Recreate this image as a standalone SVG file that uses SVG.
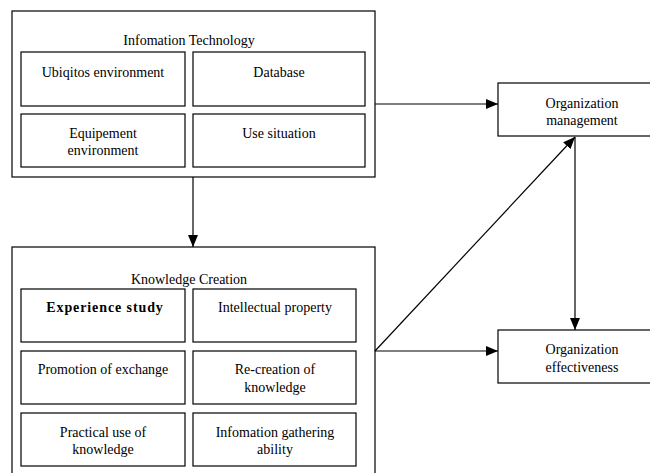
<svg xmlns="http://www.w3.org/2000/svg" width="650" height="473" viewBox="0 0 650 473" font-family="'Liberation Serif', 'Times New Roman', 'DejaVu Serif', serif" font-size="14">
<defs>
<marker id="arr" viewBox="0 0 12 10" refX="12" refY="5" markerWidth="12" markerHeight="10" markerUnits="userSpaceOnUse" orient="auto">
<path d="M0,0 L12,5 L0,10 Z" fill="#000"/>
</marker>
<style>
rect{fill:#fff;stroke:#000;stroke-width:1.2}
text{font-family:'Liberation Serif','Times New Roman','DejaVu Serif',serif;font-size:14px;fill:#000;text-anchor:middle}
.bold{font-weight:bold;letter-spacing:0.9px}
.edge{fill:none;stroke:#000;stroke-width:1.2;marker-end:url(#arr)}
</style>
</defs>
<g id="it">
<rect x="12" y="11" width="363" height="166"/>
<text x="189" y="45">Infomation Technology</text>
</g>
<g id="it-ubiq"><rect x="21" y="52" width="164" height="54"/><text x="103" y="77">Ubiqitos environment</text></g>
<g id="it-db"><rect x="193" y="52" width="172" height="54"/><text x="279" y="77">Database</text></g>
<g id="it-equip"><rect x="21" y="114" width="164" height="53"/><text x="103" y="138">Equipement</text><text x="103" y="155">environment</text></g>
<g id="it-use"><rect x="193" y="114" width="172" height="53"/><text x="279" y="138">Use situation</text></g>
<g id="kc">
<rect x="12" y="247" width="363" height="230"/>
<text x="189" y="284">Knowledge Creation</text>
</g>
<g id="kc-exp"><rect x="21" y="289" width="164" height="53"/><text class="bold" x="105" y="312">Experience study</text></g>
<g id="kc-ip"><rect x="193" y="289" width="163" height="53"/><text x="275" y="312">Intellectual property</text></g>
<g id="kc-prom"><rect x="21" y="351" width="164" height="53"/><text x="103" y="374">Promotion of exchange</text></g>
<g id="kc-re"><rect x="193" y="351" width="163" height="53"/><text x="275" y="374">Re-creation of</text><text x="275" y="392">knowledge</text></g>
<g id="kc-prac"><rect x="21" y="413" width="164" height="53"/><text x="103" y="437">Practical use of</text><text x="103" y="454">knowledge</text></g>
<g id="kc-info"><rect x="193" y="413" width="163" height="53"/><text x="275" y="437">Infomation gathering</text><text x="275" y="454">ability</text></g>
<g id="om"><rect x="498" y="83" width="160" height="53"/><text x="582" y="108">Organization</text><text x="582" y="125">management</text></g>
<g id="oe"><rect x="498" y="330" width="160" height="53"/><text x="582" y="354">Organization</text><text x="582" y="372">effectiveness</text></g>
<g id="connectors">
<path class="edge" d="M193,177 L193,247"/>
<path class="edge" d="M375,104 L498,104"/>
<path class="edge" d="M375,351 L498,351"/>
<path class="edge" d="M375,351 L575,137"/>
<path class="edge" d="M575,137 L575,330"/>
</g>
</svg>
